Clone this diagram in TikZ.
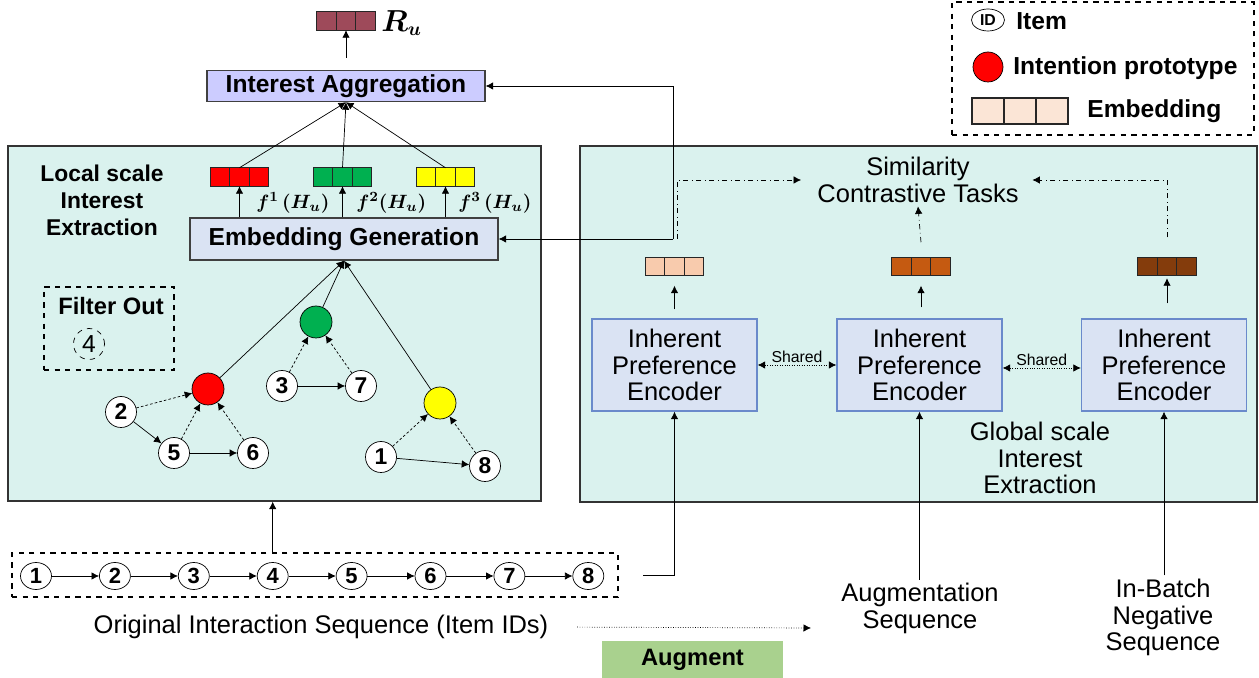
\documentclass[tikz,border=0pt]{standalone}
\usepackage{amsmath}
\usepackage{bm}
\usepackage{fontspec}
\setmainfont{Liberation Sans}
\usepackage{tikz}
\usetikzlibrary{arrows.meta, positioning, calc, shapes.geometric}
\tikzset{>={Latex[width=1.5mm,length=1.5mm]}}

\definecolor{panelc}{HTML}{DAF2EE}
\definecolor{aggc}{HTML}{CCCCFF}
\definecolor{blockc}{HTML}{DAE3F3}
\definecolor{encline}{HTML}{6A8ACB}
\definecolor{cRu}{HTML}{9E4A5A}
\definecolor{cRed}{HTML}{FF0000}
\definecolor{cGreen}{HTML}{00B050}
\definecolor{cYellow}{HTML}{FFFF00}
\definecolor{cPeach}{HTML}{F8CBAD}
\definecolor{cRust}{HTML}{C55A11}
\definecolor{cBrown}{HTML}{843C0C}
\definecolor{cLegend}{HTML}{FBE5D6}
\definecolor{cAug}{HTML}{A9D18E}

\begin{document}
\begin{tikzpicture}[
    x=0.02cm, y=-0.02cm,
    panel/.style = {draw=black!80, thick, fill=panelc, inner sep=0},
    block/.style = {draw=black!75, thick, inner sep=0,
        font=\bfseries\fontsize{14}{16}\selectfont},
    enc/.style = {draw=encline, thick, fill=blockc, inner sep=0,
        minimum width=3.3cm, minimum height=1.84cm, align=center,
        font=\fontsize{14.5}{15}\selectfont},
    cell/.style = {draw=black!85, thick, minimum width=0.39cm,
        minimum height=0.37cm, inner sep=0, outer sep=0},
    item/.style = {circle, draw, fill=white, minimum size=0.62cm,
        inner sep=0, font=\bfseries\fontsize{13}{13}\selectfont},
    seqitem/.style = {ellipse, draw, fill=white, minimum width=0.62cm,
        minimum height=0.54cm, inner sep=0,
        font=\bfseries\fontsize{12.5}{12.5}\selectfont},
    proto/.style = {circle, draw, minimum size=0.64cm, inner sep=0},
    title/.style = {align=center, inner sep=2pt,
        font=\bfseries\fontsize{13}{15.4}\selectfont},
    legtext/.style = {anchor=west, inner sep=0,
        font=\bfseries\fontsize{14}{16}\selectfont},
    caption/.style = {align=center, inner sep=2pt,
        font=\fontsize{14.5}{15}\selectfont},
    dep/.style = {->, dash pattern=on 1.5pt off 1.2pt},
    sim/.style = {->, dash dot}
  ]
  \useasboundingbox (0,0) rectangle (1259,678);

  % panels
  \node[panel, minimum width=10.66cm, minimum height=7.1cm] (local) at (274.5,323.5) {};
  \node[panel, minimum width=13.54cm, minimum height=7.12cm] (global) at (918.5,324) {};

  % legend
  \node[draw, thick, dashed, minimum width=6.04cm, minimum height=2.66cm] (legend) at (1103,68.5) {};
  \node[ellipse, draw, minimum width=0.66cm, minimum height=0.44cm, inner sep=0,
    font=\bfseries\fontsize{9}{9}\selectfont] (legid) at (988,20) {ID};
  \node[legtext] (legitem) at (1016,21) {Item};
  \node[proto, fill=cRed, minimum size=0.6cm] (legproto) at (988,67) {};
  \node[legtext] (legprototxt) at (1013,68) {Intention prototype};
  \foreach \k in {0,1,2}
  \node[cell, fill=cLegend, minimum width=0.64cm, minimum height=0.52cm] (leg\k) at (988+32*\k,111) {};
  \node[legtext] (legemb) at (1087,111) {Embedding};

  % aggregation and output
  \node[block, fill=aggc, minimum width=5.56cm, minimum height=0.62cm] (IA) at (346,86) {Interest Aggregation};
  \foreach \k in {0,1,2}
  \node[cell, fill=cRu] (ru\k) at (326.5+19.5*\k,21) {};
  \node[anchor=west, inner sep=0, font=\fontsize{16}{16}\selectfont] (rulabel) at (381,23) {$\bm{R_u}$};
  \draw[->, shorten <=0.24cm] (IA.north -| ru1) -- (ru1.south);

  % local scale interest extraction
  \node[title] (localtxt) at (102,200) {Local scale\\Interest\\Extraction};
  \node[block, fill=blockc, minimum width=6.16cm, minimum height=0.84cm] (EG) at (344,239) {Embedding Generation};
  \foreach \k in {0,1,2} {
    \node[cell, fill=cRed] (red\k) at (220+19.5*\k,177) {};
    \node[cell, fill=cGreen] (green\k) at (323+19.5*\k,177) {};
    \node[cell, fill=cYellow] (yellow\k) at (426+19.5*\k,177) {};
  }
  \foreach \e in {red, green, yellow} {
    \draw[->] (\e1 |- EG.north) -- (\e1.south);
    \draw[->] (\e1.north) -- (IA.south);
  }
  \node[anchor=west, inner sep=0, font=\fontsize{11}{11}\selectfont] (f1) at (256,203) {$\bm{f^1}\,\bm{(H_u)}$};
  \node[anchor=west, inner sep=0, font=\fontsize{11}{11}\selectfont] (f2) at (356,203) {$\bm{f^2}\bm{(H_u)}$};
  \node[anchor=west, inner sep=0, font=\fontsize{11}{11}\selectfont] (f3) at (458,203) {$\bm{f^3}\,\bm{(H_u)}$};

  % filtered item
  \node[draw, thick, dashed, minimum width=2.6cm, minimum height=1.66cm] (filter) at (109,328.5) {};
  \node[title, font=\bfseries\fontsize{13.5}{15}\selectfont] (filtertxt) at (111,306) {Filter Out};
  \node[circle, draw, dashed, minimum size=0.62cm, inner sep=0,
    font=\fontsize{14}{14}\selectfont] (drop) at (89,344) {4};

  % intention prototypes and item graph
  \node[proto, fill=cRed] (pred) at (208,389) {};
  \node[proto, fill=cGreen] (pgreen) at (316,322) {};
  \node[proto, fill=cYellow] (pyellow) at (440,403) {};
  \node[item] (n2) at (121,412) {2};
  \node[item] (n5) at (174,453) {5};
  \node[item] (n6) at (253,453) {6};
  \node[item] (n3) at (282,386) {3};
  \node[item] (n7) at (361,386) {7};
  \node[item] (n1) at (381,457) {1};
  \node[item] (n8) at (485,466) {8};
  \draw[->] (n2) -- (n5);
  \draw[->] (n5) -- (n6);
  \draw[->] (n3) -- (n7);
  \draw[->] (n1) -- (n8);
  \foreach \a/\b in {n2/pred, n5/pred, n6/pred, n3/pgreen, n7/pgreen, n1/pyellow, n8/pyellow}
  \draw[dep] (\a) -- (\b);
  \foreach \p in {pred, pgreen, pyellow}
  \draw[->] (\p) -- (EG.south);

  % original sequence
  \node[draw, thick, dashed, minimum width=12.12cm, minimum height=0.88cm] (seqbox) at (315,575) {};
  \foreach \i [count=\j from 0] in {1,...,8}
  \node[seqitem] (s\i) at (36+78.9*\j,576) {\i};
  \foreach \i [count=\j from 2] in {1,...,7}
  \draw[->] (s\i) -- (s\j);
  \draw[->] (seqbox.north -| s4) -- (s4 |- local.south);
  \node[caption] (orig) at (321,627) {Original Interaction Sequence (Item IDs)};
  \coordinate (augin) at (811,628);
  \draw[->, densely dotted, shorten <=0.5cm] (orig.east) -- (augin);
  \node[fill=cAug, minimum width=3.62cm, minimum height=0.74cm,
    font=\bfseries\fontsize{13.5}{15}\selectfont] (augment) at (692.5,659.5) {Augment};

  % global scale interest extraction
  \node[enc] (enc1) at (674.5,365) {Inherent\\Preference\\Encoder};
  \node[enc] (enc2) at (919.5,365) {Inherent\\Preference\\Encoder};
  \node[enc] (enc3) at (1164,365) {Inherent\\Preference\\Encoder};
  \draw[<->, densely dotted] (enc1.east |- 0,365) -- node[above, inner sep=1pt, font=\fontsize{9}{9}\selectfont] (shared1) {Shared} (enc2.west |- 0,365);
  \draw[<->, densely dotted] (enc2.east |- 0,368) -- node[above, inner sep=1pt, font=\fontsize{9}{9}\selectfont] (shared2) {Shared} (enc3.west |- 0,368);
  \foreach \k in {0,1,2} {
    \node[cell, fill=cPeach] (ea\k) at (655+19.5*\k,266.5) {};
    \node[cell, fill=cRust] (eb\k) at (901.5+19.5*\k,266.5) {};
    \node[cell, fill=cBrown] (ec\k) at (1147.5+19.5*\k,266.5) {};
  }
  \draw[->, shorten <=0.18cm, shorten >=0.2cm] (ea1 |- enc1.north) -- (ea1.south);
  \draw[->, shorten <=0.22cm, shorten >=0.2cm] (eb1 |- enc2.north) -- (eb1.south);
  \draw[->, shorten <=0.3cm, shorten >=0.05cm] (ec1 |- enc3.north) -- (ec1.south);

  \node[caption] (simtask) at (918,180) {Similarity\\Contrastive Tasks};
  \node[caption] (globaltxt) at (1040,458) {Global scale\\Interest\\Extraction};

  \coordinate (tap) at (673,239);
  \coordinate (tapsim) at (677,239);
  \draw[->] (tap) |- (IA.east);
  \draw[->] (tap) -- (EG.east);
  \draw[sim, shorten >=0.25cm] (tapsim) |- (simtask.west);
  \draw[sim] ([yshift=0.3cm]eb1.north) -- (simtask.south);
  \draw[sim, shorten >=0.2cm] ([yshift=0.4cm]ec1.north) |- (simtask.east);

  % sequence inputs
  \node[caption] (augseq) at (920,608.5) {Augmentation\\Sequence};
  \node[caption] (negseq) at (1163,617.5) {In-Batch\\Negative\\Sequence};
  \coordinate (seqout) at (643,575);
  \draw[->] (seqout) -| (enc1.south);
  \draw[->] (augseq.north -| enc2.south) -- (enc2.south);
  \draw[->] (negseq.north -| enc3.south) -- (enc3.south);
\end{tikzpicture}
\end{document}
